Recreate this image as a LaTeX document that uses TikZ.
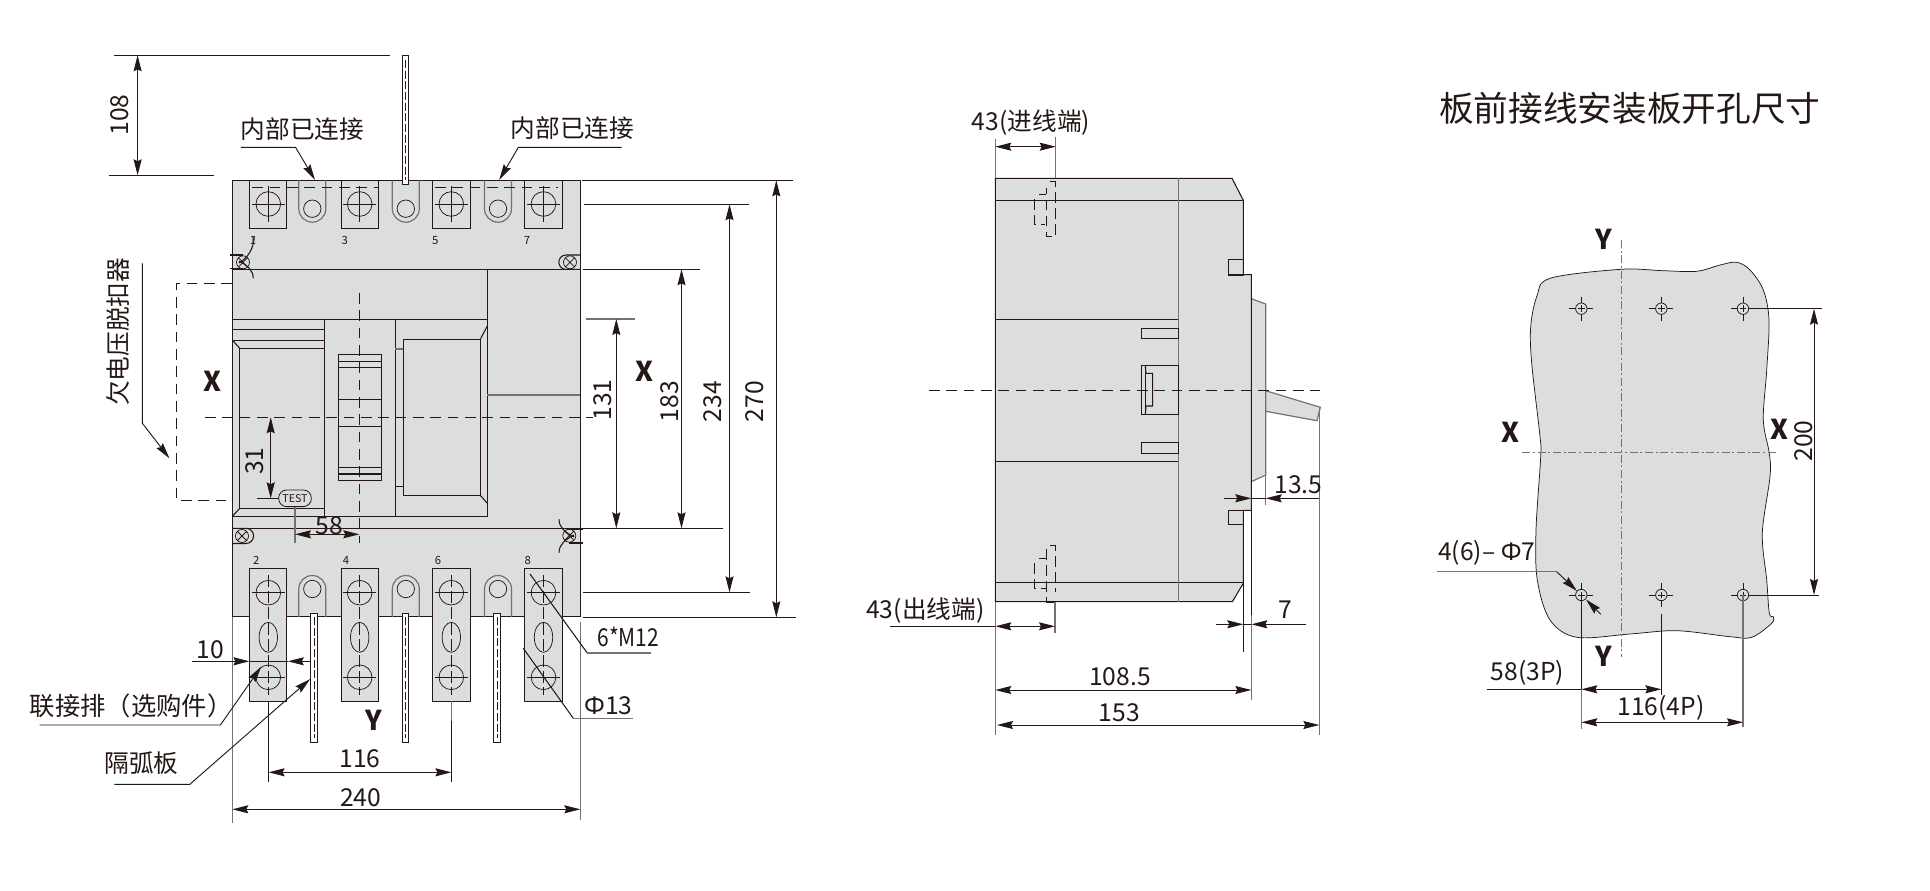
\documentclass[tikz,border=0pt]{standalone}
\usepackage{fontspec}
\setmainfont{Noto Sans CJK SC}
\newfontfamily\grkfont{Noto Sans}
\definecolor{InkColor}{RGB}{35,24,21}
\definecolor{BodyColor}{RGB}{220,221,221}
\definecolor{EdgeColor}{RGB}{115,115,115}
\usetikzlibrary{arrows.meta}
\usetikzlibrary{positioning}
\tikzstyle{ink} = [InkColor, line width=0.8pt]
\tikzstyle{edge} = [EdgeColor, line width=0.9pt]
\tikzstyle{thinline} = [InkColor, line width=0.55pt]
\tikzstyle{center} = [InkColor, line width=0.7pt, dash pattern=on 8pt off 5pt]
\tikzstyle{fineaxis} = [EdgeColor, line width=0.6pt, dash pattern=on 6pt off 2pt on 1.5pt off 2pt]
\tikzstyle{dim} = [InkColor, line width=0.7pt, <->, >={Stealth[length=12pt,width=6pt,inset=1.5pt]}]
\tikzstyle{lead} = [InkColor, line width=0.7pt, ->, >={Stealth[length=12pt,width=6pt,inset=1.5pt]}]
\tikzstyle{txt} = [InkColor, inner sep=0pt, font=\fontsize{18.5pt}{20pt}\selectfont]
\tikzstyle{title} = [InkColor, inner sep=0pt, font=\fontsize{26pt}{28pt}\selectfont]
\tikzstyle{axis} = [InkColor, inner sep=0pt, font=\fontsize{20.5pt}{22pt}\selectfont\bfseries]
\tikzstyle{tiny} = [InkColor, inner sep=0pt, font=\fontsize{8.5pt}{9pt}\selectfont]

\begin{document}
\begin{tikzpicture}[x=0.75pt, y=-0.75pt]
\useasboundingbox (0,0) rectangle (1930,891);

% front view
\draw[ink, fill=BodyColor] (232.5,180.5) rectangle (580.4,616.5);
\draw[ink] (232.5,269.3) -- (580.4,269.3);
\draw[ink] (232.5,528.3) -- (580.4,528.3);
\draw[ink] (487.3,269.3) -- (487.3,516.2) -- (232.5,516.2);
\draw[ink] (232.5,319.3) -- (487.3,319.3);
\draw[ink] (232.5,329.3) -- (324.3,329.3);
\draw[ink] (232.5,340.3) -- (324.3,340.3);
\draw[ink] (239.7,348.3) -- (324.3,348.3);
\draw[ink] (239.7,348.3) -- (239.7,508.3) -- (324.3,508.3);
\draw[ink] (324.3,319.3) -- (324.3,516.2);
\draw[ink] (395.3,319.3) -- (395.3,516.2);
\draw[ink] (232.5,340.3) -- (239.7,348.3);
\draw[ink] (232.5,516.2) -- (239.7,508.3);
\draw[ink] (403.3,339.3) rectangle (480.3,495.3);
\draw[ink] (480.3,339.3) -- (487.3,326);
\draw[ink] (480.3,495.3) -- (487.3,503.3);
\draw[edge] (395.3,349) -- (403.3,349);
\draw[ink] (395.3,486.3) -- (403.3,486.3);
\draw[edge] (487.3,395) -- (580.4,395);
\draw[ink] (338.3,354.3) rectangle (381.7,480.3);
\foreach \yy in {361.3,367.3,399.3,426.7,467.3,474}
  \draw[ink] (338.3,\yy) -- (381.7,\yy);

% terminals
\foreach \xa/\xb/\xc in {249.3/286.7/268.3,341.3/378.7/359.7,432.3/470.7/451.3,524.3/562.7/543.5}{
  \draw[ink] (\xa,180.5) rectangle (\xb,228.3);
  \draw[thinline] (\xc,204) circle (12.3);
  \draw[thinline] (\xc,186) -- (\xc,222);
  \draw[thinline] (\xc-16.5,204) -- (\xc+16.5,204);
  \draw[ink, fill=BodyColor] (\xa,568.3) rectangle (\xb,701.3);
  \draw[thinline] (\xc,592.7) circle (12.3);
  \draw[thinline] (\xc,677.3) circle (12.3);
  \draw[thinline] (\xc,637.3) ellipse (9.2 and 15);
  \draw[thinline, dash pattern=on 9pt off 3pt] (\xc,575) -- (\xc,695);
  \draw[thinline] (\xc-16.5,592.7) -- (\xc+16.5,592.7);
  \draw[thinline] (\xc-16.5,677.3) -- (\xc+16.5,677.3);
}
\foreach \xc in {312.3,405.8,498}{
  \draw[edge] (\xc-13.5,180.5) -- (\xc-13.5,208.7) arc (180:0:13.5) -- (\xc+13.5,180.5);
  \draw[thinline] (\xc,208.7) circle (8.7);
  \draw[edge] (\xc-13.5,617) -- (\xc-13.5,589) arc (180:360:13.5) -- (\xc+13.5,617);
  \draw[thinline] (\xc,589) circle (8.7);
}
\draw[center] (252.3,187.3) -- (378.3,187.3);
\draw[center] (435,187.3) -- (558.3,187.3);

% partitions
\foreach \xa/\xb in {310.2/317.6,402.2/408.7,493.5/500.4}{
  \draw[thinline, fill=white] (\xa,613.3) rectangle (\xb,742.3);
  \draw[thinline, dash pattern=on 6pt off 2pt] ({(\xa+\xb)/2},617) -- ({(\xa+\xb)/2},738);
}
\draw[thinline, fill=white] (402.4,55.3) rectangle (408.7,184.7);
\draw[thinline, dash pattern=on 6pt off 2pt] (405.5,60) -- (405.5,180);

% screws
\draw[ink] (580.4,255) -- (566,255) arc (270:90:7.2) -- (580.4,269.3);
\draw[thinline] (570,262.3) circle (6.5) (565.4,257.7) -- (574.6,266.9) (574.6,257.7) -- (565.4,266.9);
\draw[ink] (232.5,528.3) -- (246,528.3) arc (-90:90:7.6) -- (232.5,543.5);
\draw[thinline] (242,536) circle (6.5) (237.4,531.4) -- (246.6,540.6) (246.6,531.4) -- (237.4,540.6);
\draw[thinline] (243,262.3) circle (6.5) (238.4,257.7) -- (247.6,266.9) (247.6,257.7) -- (238.4,266.9);
\draw[ink] (230,255) -- (243,255) (230,268.3) -- (243,268.3);
\draw[ink] (254.3,236) .. controls (254,248) and (248,258) .. (239,263);
\draw[ink] (253.3,278.3) .. controls (253,270) and (248,266) .. (239,261);
\draw[thinline] (569.3,535.7) circle (6.5) (564.7,531.1) -- (573.9,540.3) (573.9,531.1) -- (564.7,540.3);
\draw[ink] (582.7,529) -- (569,529) (582.7,543) -- (569,543);
\draw[ink] (559,519.3) .. controls (559.3,528) and (565,532) .. (574,537);
\draw[ink] (559,552.7) .. controls (559.3,544) and (565,540) .. (574,535);

% terminal numbers
\foreach \xx/\num in {253/1,344.7/3,435.3/5,527/7}
  \node[tiny] (top\num) at (\xx,240.7) {\num};
\foreach \xx/\num in {256.3/2,346/4,438/6,527.8/8}
  \node[tiny] (bot\num) at (\xx,560.7) {\num};

% centre lines
\draw[center] (359.3,293) -- (359.3,543);
\draw[center] (205,417.3) -- (592.6,417.3);
\draw[center] (232,283.3) -- (176.3,283.3) -- (176.3,500.3) -- (232,500.3);

% front dimensions
\draw[ink] (113.9,55.3) -- (389.8,55.3);
\draw[ink] (109,175.3) -- (213.5,175.3);
\draw[dim] (137.6,55.3) -- (137.6,175.3);
\node[txt, rotate=90] (dimA) at (119.6,115) {108};
\draw[thinline] (256.7,498.3) -- (280,498.3);
\draw[dim] (270.7,417.3) -- (270.7,498.3);
\node[txt, rotate=90] (dimB) at (255,461) {31};
\node[draw=InkColor, line width=0.6pt, fill=BodyColor, rounded corners=6pt, minimum width=24.5pt, minimum height=12.5pt, inner sep=0pt, text=InkColor, font=\fontsize{8pt}{9pt}\selectfont] (testbtn) at (295,498.3) {TEST};
\draw[edge] (testbtn.south) -- (295,543.3);
\draw[dim] (295,534.3) -- (359.3,534.3);
\node[txt] (dimC) at (329,526) {58};

\draw[ink] (582,180.4) -- (792.7,180.4);
\draw[ink] (584,204.3) -- (749.3,204.3);
\draw[ink] (583,269.3) -- (700,269.3);
\draw[edge] (586,319) -- (635,319);
\draw[ink] (583,528.3) -- (722.7,528.3);
\draw[ink] (583,592.3) -- (750,592.3);
\draw[ink] (583,617.3) -- (796,617.3);
\draw[dim] (616.3,319) -- (616.3,528.3);
\draw[dim] (681.5,269.3) -- (681.5,528.3);
\draw[dim] (729.5,204.3) -- (729.5,592.3);
\draw[dim] (776.3,180.4) -- (776.3,617.3);
\node[txt, rotate=90] (dimD) at (603,400) {131};
\node[txt, rotate=90] (dimE) at (670,401.7) {183};
\node[txt, rotate=90] (dimF) at (712.3,401.7) {234};
\node[txt, rotate=90] (dimG) at (755,401.7) {270};
\node[axis] (xa) at (212.2,381.7) {X};
\node[axis] (xb) at (644.7,371.7) {X};
\node[axis] (ya) at (374.3,720) {Y};

\draw[edge] (232.3,616.5) -- (232.3,823.3);
\draw[edge] (580.3,621.7) -- (580.3,820);
\draw[thinline] (268.6,701.3) -- (268.6,781.7);
\draw[edge] (451.4,701.3) -- (451.4,721);
\draw[thinline] (451.4,721) -- (451.4,781.7);
\draw[dim] (268.6,772.3) -- (451.4,772.3);
\draw[dim] (232.3,809.3) -- (580.3,809.3);
\node[txt] (dimH) at (360,758.3) {116};
\node[txt] (dimI) at (360.8,797.3) {240};
\draw[lead] (192,661.3) -- (249.4,661.3);
\draw[lead] (310,661.3) -- (287.8,661.3);
\draw[thinline] (249.4,661.3) -- (287.8,661.3);
\node[txt] (dimJ) at (210,650) {10};

% leaders
\node[txt] (linkA) at (302.4,129.3) {内部已连接};
\node[txt] (linkB) at (572.6,127.7) {内部已连接};
\draw[lead] (240.8,147.3) -- (295.5,147.3) -- (315,180);
\draw[lead] (621.6,147.3) -- (518.4,147.3) -- (499.2,180);
\node[txt, rotate=90] (uvrelease) at (118.4,331.7) {欠电压脱扣器};
\draw[lead] (142.4,263.3) -- (142.4,423.3) -- (169.4,458.3);
\node[txt] (busbar) at (131,705.7) {\fontsize{19pt}{20pt}\selectfont 联接排（选购件）};
\draw[lead] (39.6,725) -- (220.4,725) -- (261.2,666.7);
\node[txt] (barrier) at (141.6,763.3) {隔弧板};
\draw[lead] (114.3,784.3) -- (189.8,784.3) -- (310.2,679);
\node[txt] (boltsize) at (628.3,637.3) {\scalebox{0.85}[1]{6*M12}};
\draw[ink] (530,574) -- (587.3,653);
\draw[edge] (587.3,653) -- (650.7,653);
\node[txt] (holesize) at (608.3,705.7) {{\grkfont Φ}13};
\draw[ink] (523.3,648.3) -- (573.3,718.3);
\draw[edge] (573.3,718.3) -- (632.7,718.3);

% side view
\draw[edge, fill=BodyColor] (1251.3,298.7) -- (1265.7,304) -- (1265.7,475) -- (1251.3,481.7) -- cycle;
\draw[edge, fill=BodyColor] (1265.7,390.7) -- (1320.3,407.3) -- (1317,420.7) -- (1265.7,411.3) -- cycle;
\draw[ink, fill=BodyColor] (995.3,178.3) -- (1232,178.3) -- (1243.3,200.3) -- (1243.3,274.7) -- (1251.3,274.7) -- (1251.3,510.3) -- (1243.3,510.3) -- (1243.3,583.3) -- (1232.3,601.7) -- (995.3,601.7) -- cycle;
\draw[ink] (995.3,200.3) -- (1243.3,200.3);
\draw[ink] (995.3,582.3) -- (1243.3,582.3);
\draw[ink] (995.3,319.3) -- (1178.3,319.3);
\draw[ink] (995.3,461.3) -- (1178.3,461.3);
\draw[edge] (1178.3,178.3) -- (1178.3,601.7);
\draw[ink] (1228.3,259.3) rectangle (1243.3,275);
\draw[ink] (1228.3,510.3) rectangle (1243.3,524.7);
\draw[ink] (1141.3,328.3) rectangle (1178.3,338.7);
\draw[ink] (1141.3,442.3) rectangle (1178.3,453.3);
\draw[ink] (1141.3,365.3) rectangle (1178.3,414.3);
\draw[ink] (1145.3,365.3) -- (1145.3,414.3);
\draw[ink] (1145.3,365.3) -- (1146,373.3) -- (1152.7,373.3) -- (1152.7,406) -- (1146,406) -- (1145.3,414.3);
\draw[center] (929,390.3) -- (1320,390.3);
\draw[thinline, dash pattern=on 8pt off 4pt] (1050,181.3) -- (1055.3,181.3) -- (1055.3,236.7) -- (1046.3,236.7) -- (1046.3,188.3);
\draw[thinline] (1039,194.3) -- (1046.3,194.3);
\draw[thinline, dash pattern=on 8pt off 4pt] (1034.3,199.3) -- (1034.3,224.3) -- (1045,224.3);
\draw[thinline, dash pattern=on 8pt off 4pt] (1050,545.3) -- (1055.3,545.3) -- (1055.3,591.7);
\draw[thinline, dash pattern=on 8pt off 4pt] (1046.3,549) -- (1046.3,601.7);
\draw[thinline] (1039,558.3) -- (1046.3,558.3);
\draw[thinline, dash pattern=on 8pt off 4pt] (1034.3,563.3) -- (1034.3,588.3) -- (1046,588.3);
\draw[ink, line width=1.3pt] (1046.3,602) -- (1055.5,602);

% side dimensions
\draw[edge] (995.3,139) -- (995.3,178.3);
\draw[edge] (1055.7,136.7) -- (1055.7,178.3);
\draw[dim] (995.3,146.7) -- (1055.7,146.7);
\node[txt] (feedin) at (1031,122.3) {43(进线端)};
\draw[edge] (995.3,601.7) -- (995.3,735);
\draw[edge] (1055,602) -- (1055,633.3);
\draw[thinline] (890,626.3) -- (995.3,626.3);
\draw[dim] (995.3,626.3) -- (1055,626.3);
\node[txt] (feedout) at (925.3,611) {43(出线端)};
\draw[thinline] (1243.3,583) -- (1243.3,651.7);
\draw[thinline] (1251.3,510.3) -- (1251.3,615);
\draw[edge] (1251.3,615) -- (1251.3,700);
\draw[edge] (1265.7,475) -- (1265.7,505);
\draw[edge] (1319.3,407.3) -- (1319.3,735);
\draw[dim] (995.3,690) -- (1251.3,690);
\draw[dim] (997,725) -- (1319.3,725);
\node[txt] (dimK) at (1120,676.7) {108.5};
\node[txt] (dimL) at (1119.3,712.7) {153};
\draw[lead] (1216,624.3) -- (1243.3,624.3);
\draw[lead] (1305.7,624.3) -- (1251.3,624.3);
\draw[thinline] (1243.3,624.3) -- (1251.3,624.3);
\node[txt] (dimM) at (1285.7,610) {7};
\draw[lead] (1224,498.3) -- (1251.3,498.3);
\draw[lead] (1319,498.3) -- (1265.7,498.3);
\draw[thinline] (1251.3,498.3) -- (1265.7,498.3);
\node[txt] (dimN) at (1298.3,485) {13.5};

% panel cut-out
\node[title] (paneltitle) at (1629.7,108.3) {板前接线安装板开孔尺寸};
\draw[thinline, fill=BodyColor, smooth cycle, tension=0.55] plot coordinates {(1621,269.3) (1550,278.3) (1536.7,296.7) (1530.7,326.7) (1531.7,363.3) (1540,436.7) (1540.7,456.7) (1536,530) (1537.3,580) (1550,620) (1576.7,637.3) (1630,634) (1676.7,630.7) (1730,636.7) (1751.7,637.3) (1771.7,623.3) (1773.3,616.7) (1769.3,613.3) (1766.7,580) (1762.3,533.3) (1770,476.7) (1769.3,453.3) (1763.3,420) (1766.7,370) (1769,320) (1763.3,290) (1750,270) (1736.7,262.3) (1720,265) (1696.7,271.3) (1663,270.7)};
\draw[fineaxis] (1621.3,240) -- (1621.3,656.7);
\draw[fineaxis] (1522.3,452.3) -- (1776.7,452.3);
\foreach \xx/\yy in {1581.3/308.7,1661.3/308.7,1743/308.7,1581.3/595,1661.3/595,1743/595}{
  \draw[thinline] (\xx,\yy) circle (5.7);
  \draw[thinline, dash pattern=on 5pt off 1.5pt on 5pt off 1.5pt] (\xx-12,\yy) -- (\xx+12,\yy);
  \draw[thinline, dash pattern=on 5pt off 1.5pt on 5pt off 1.5pt] (\xx,\yy-12) -- (\xx,\yy+12);
}
\node[axis] (yb) at (1604,239) {Y};
\node[axis] (yc) at (1604,656.7) {Y};
\node[axis] (xc) at (1510,432.3) {X};
\node[axis] (xd) at (1779,429) {X};
\draw[thinline] (1750,308.7) -- (1821.7,308.7);
\draw[thinline] (1750,595) -- (1819,595);
\draw[dim] (1814,308.7) -- (1814,595);
\node[txt, rotate=90] (dimO) at (1803.3,441) {200};
\node[txt] (holecount) at (1486.7,553.3) {4(6)– {\grkfont Φ}7};
\draw[edge] (1437.3,571.7) -- (1556.7,571.7);
\draw[lead] (1556.7,571.7) -- (1577,591);
\draw[lead] (1600.7,614.3) -- (1586,599.5);
\draw[thinline] (1581.3,595) -- (1581.3,689.3);
\draw[edge] (1581.3,689.3) -- (1581.3,729.3);
\draw[thinline] (1661.3,614) -- (1661.3,695);
\draw[edge] (1743,595) -- (1743,726.7);
\draw[thinline] (1487.3,689.3) -- (1581.3,689.3);
\draw[dim] (1581.3,689.3) -- (1661.3,689.3);
\draw[dim] (1581.3,722.3) -- (1743,722.3);
\node[txt] (threepole) at (1527.3,672.7) {58(3P)};
\node[txt] (fourpole) at (1661,707.7) {116(4P)};
\end{tikzpicture}
\end{document}
